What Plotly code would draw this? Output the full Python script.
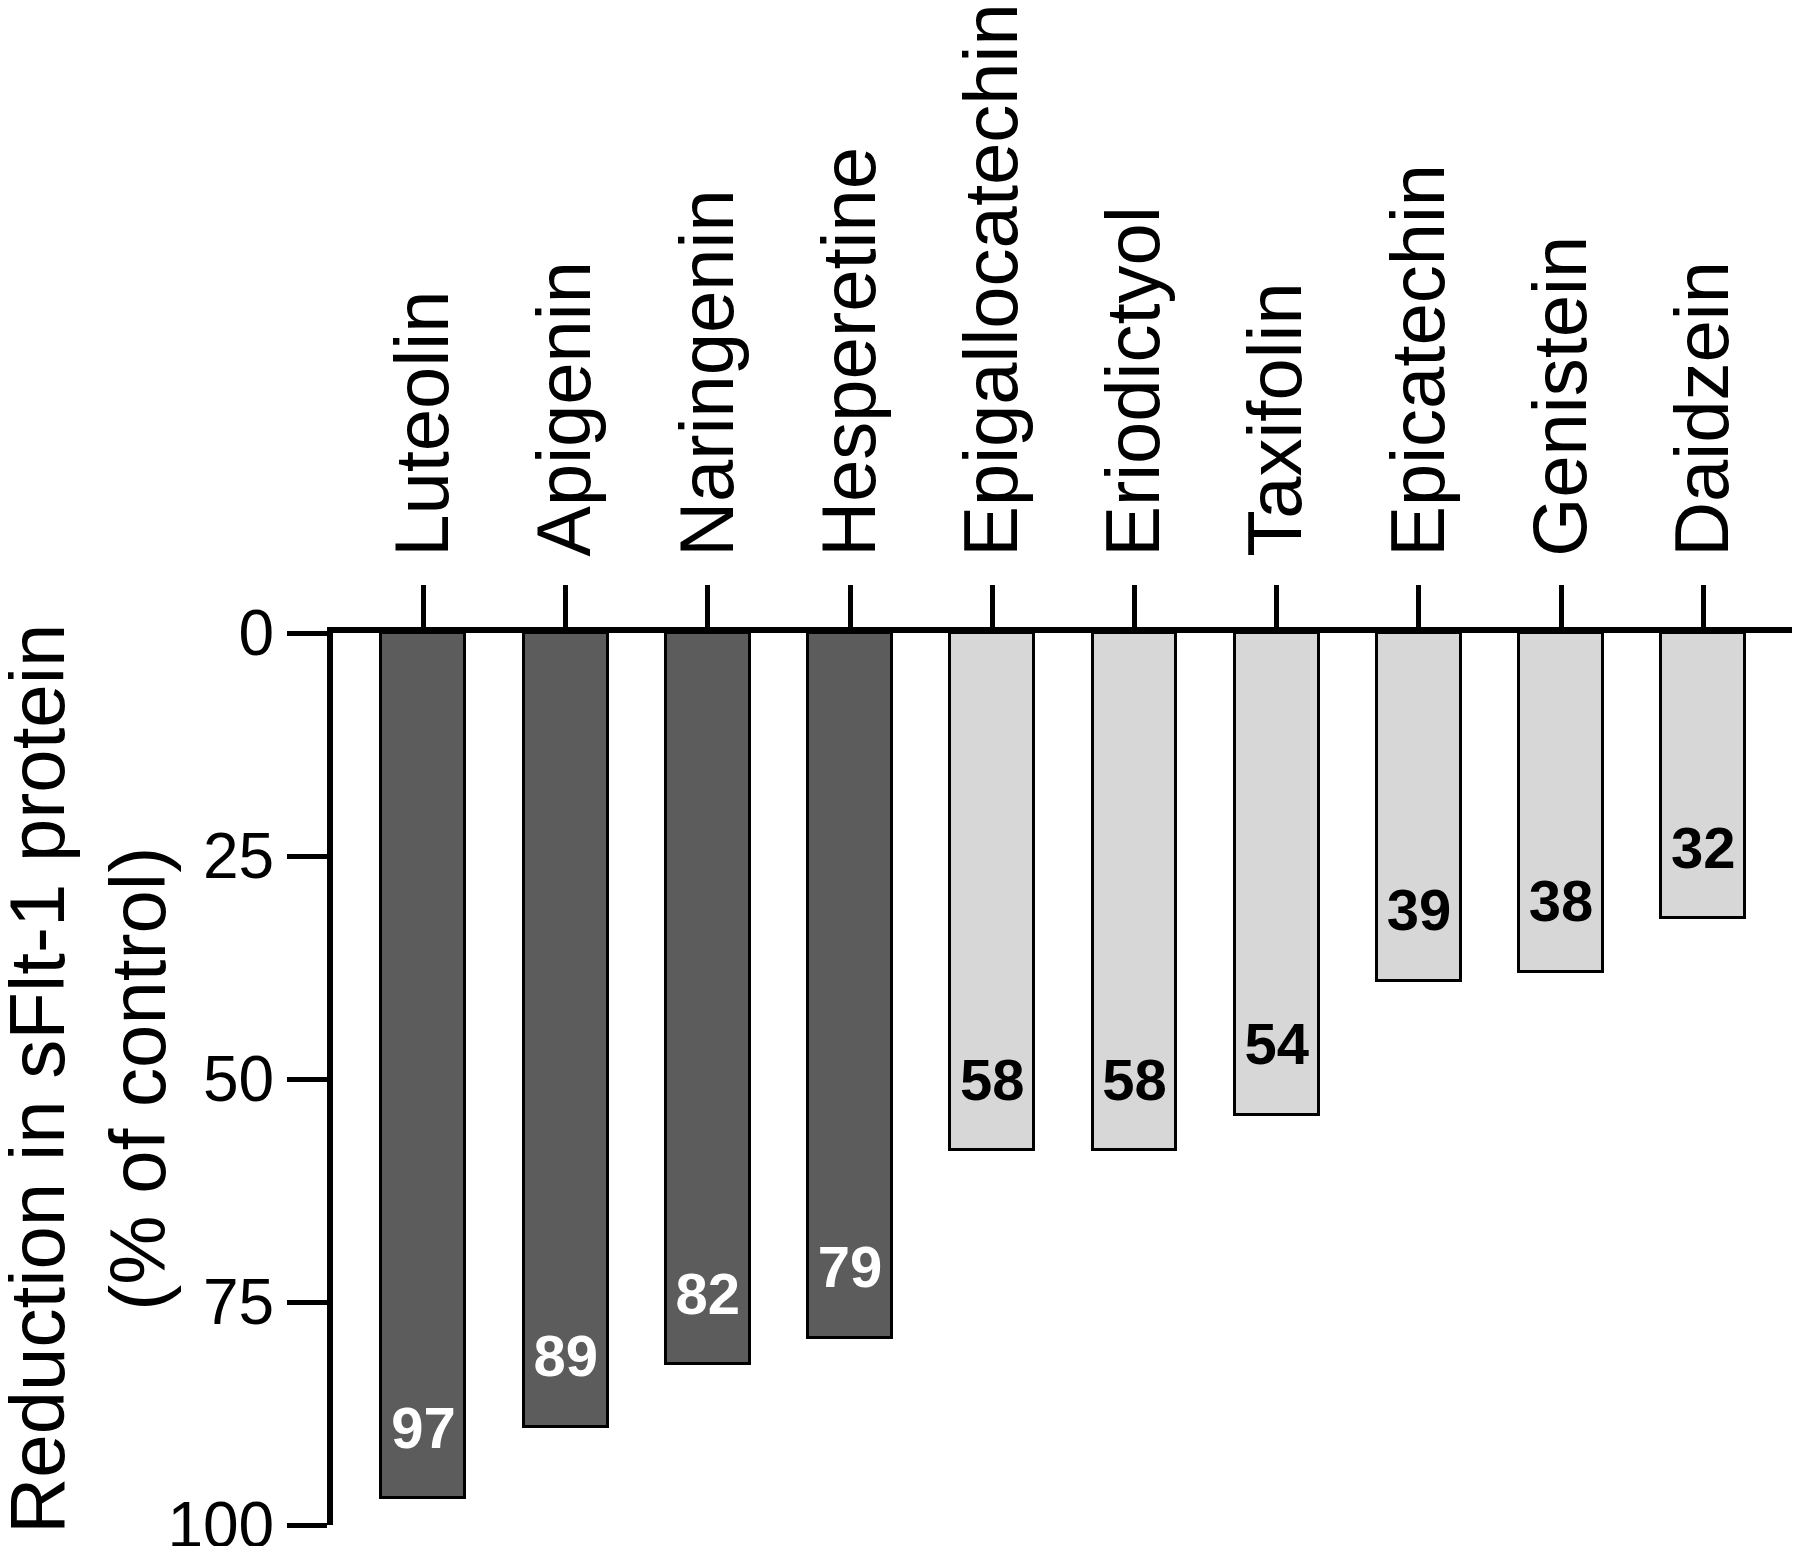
import plotly.graph_objects as go

# ---- data ----
compounds = ["Luteolin", "Apigenin", "Naringenin", "Hesperetine", "Epigallocatechin",
             "Eriodictyol", "Taxifolin", "Epicatechin", "Genistein", "Daidzein"]
reduction = [97, 89, 82, 79, 58, 58, 54, 39, 38, 32]
group = ["strong", "strong", "strong", "strong", "weak", "weak", "weak", "weak", "weak", "weak"]
y_ticks = [0, 25, 50, 75, 100]
y_title = "Reduction in sFlt-1 protein<br>(% of control)"

# ---- styles ----
FONT = "Arial, 'Liberation Sans', Helvetica, sans-serif"
fill_map = {"strong": "#5c5c5c", "weak": "#d6d7d6"}
text_map = {"strong": "#ffffff", "weak": "#000000"}
LABEL_OFFSET = 7.3  # label centre sits this far (in data units) inside the bar end

x_idx = list(range(len(compounds)))

fig = go.Figure()
fig.add_trace(go.Bar(
    x=x_idx, y=reduction, width=0.59,
    marker=dict(color=[fill_map[g] for g in group],
                line=dict(color="#000000", width=3)),
    showlegend=False, hoverinfo="skip",
))
fig.add_trace(go.Scatter(
    x=x_idx, y=[v - LABEL_OFFSET for v in reduction],
    mode="text", text=[str(v) for v in reduction],
    textposition="middle center",
    textfont=dict(family=FONT, size=58, weight="bold",
                  color=[text_map[g] for g in group]),
    showlegend=False, hoverinfo="skip",
))

# the page body adds an 8px offset, so the figure is 8px smaller than the window
fig.update_layout(
    template="none",
    width=1792, height=1538,
    margin=dict(l=325, r=0, t=625, b=21, autoexpand=False),
    paper_bgcolor="white", plot_bgcolor="white",
    font=dict(family=FONT, color="#000000"),
    bargap=0,
)
fig.update_xaxes(
    side="top", range=[-0.636, 9.680], automargin=False,
    tickmode="array", tickvals=x_idx, ticktext=compounds,
    tickangle=-90, tickfont=dict(size=76, family=FONT),
    ticks="outside", ticklen=42, tickwidth=5, tickcolor="#000000",
    showline=True, linewidth=6, linecolor="#000000",
    showgrid=False, zeroline=False,
    ticklabelstandoff=13, ticklabeloverflow="allow",
)
fig.update_yaxes(
    range=[100, 0], automargin=False,
    tickmode="array", tickvals=y_ticks, ticktext=[str(t) for t in y_ticks],
    tickfont=dict(size=64, family=FONT),
    ticks="outside", ticklen=40, tickwidth=5, tickcolor="#000000",
    showline=True, linewidth=6, linecolor="#000000",
    showgrid=False, zeroline=False, ticklabeloverflow="allow",
)
# y-axis title as a rotated annotation (standoff is ignored without automargin)
fig.add_annotation(
    text=y_title, xref="paper", yref="paper", x=0, y=0.5,
    xanchor="center", yanchor="middle", xshift=-246,
    textangle=-90, showarrow=False, align="center",
    font=dict(size=78, family=FONT, color="#000000"),
)

fig.write_html("out.html")
